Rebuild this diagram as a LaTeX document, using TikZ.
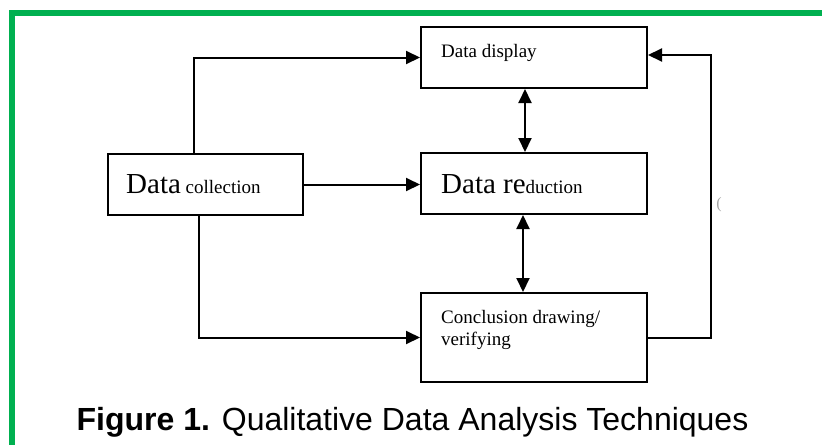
\documentclass[tikz,border=0pt]{standalone}
\usepackage{fontspec}
\setmainfont{Liberation Serif}
\newfontfamily\capfont{Liberation Sans}
\usetikzlibrary{arrows.meta}
\definecolor{framegreen}{RGB}{0,176,80}

\tikzset{
  box/.style={draw, line width=2pt, inner sep=0pt},
  conn/.style={line width=2pt, -{Triangle[length=14pt,width=13pt]}},
  twoway/.style={line width=2pt, {Triangle[length=14pt,width=13pt]}-{Triangle[length=14pt,width=13pt]}},
  lbl/.style={inner sep=0pt, anchor=base west},
}
\newcommand{\bigtxt}{\fontsize{29}{33}\selectfont}
\newcommand{\smalltxt}{\fontsize{19}{22}\selectfont}

\begin{document}
\begin{tikzpicture}[x=1pt,y=-1pt]
\useasboundingbox (0,0) rectangle (822,445);
%frame
\fill[framegreen] (9,10) rectangle (822,16);
\fill[framegreen] (9,10) rectangle (15,445);

\node[box, minimum width=226pt, minimum height=61pt] (disp) at (534,57.5) {};
\node[box, minimum width=226pt, minimum height=61pt] (red) at (534,183.5) {};
\node[box, minimum width=195pt, minimum height=61pt] (coll) at (205.5,184.5) {};
\node[box, minimum width=226pt, minimum height=89pt] (conc) at (534,337.5) {};

\node[lbl] (disptxt) at (441,57) {\smalltxt Data display};
\node[lbl] (redtxt) at (441,193) {\bigtxt Data re{\smalltxt duction}};
\node[lbl] (colltxt) at (126,193) {{\bigtxt Data}{\smalltxt\ collection}};
\node[lbl] (conctxt) at (441,323) {\smalltxt Conclusion drawing/};
\node[lbl] (conctxtb) at (441,345) {\smalltxt verifying};

\draw[conn] ([xshift=-11.5pt]coll.north) |- (disp.west);
\draw[conn] (coll.east) -- (coll.east -| red.west);
\draw[conn] ([xshift=-6.5pt]coll.south) |- (conc.west);
\draw[twoway] ([xshift=-9pt]disp.south) -- ([xshift=-9pt]red.north);
\draw[twoway] ([xshift=-11pt]red.south) -- ([xshift=-11pt]conc.north);
\draw[conn] (conc.east) -- ++(63,0) |- ([yshift=2.5pt]disp.east);

\node[inner sep=0pt, text=black!35] (mark) at (719,205) {\fontsize{16}{18}\selectfont(};

\node[inner sep=0pt, anchor=base] (caption) at (412.5,430) {\capfont\fontsize{32}{38}\selectfont\textbf{Figure 1.} Qualitative Data Analysis Techniques};
\end{tikzpicture}
\end{document}
